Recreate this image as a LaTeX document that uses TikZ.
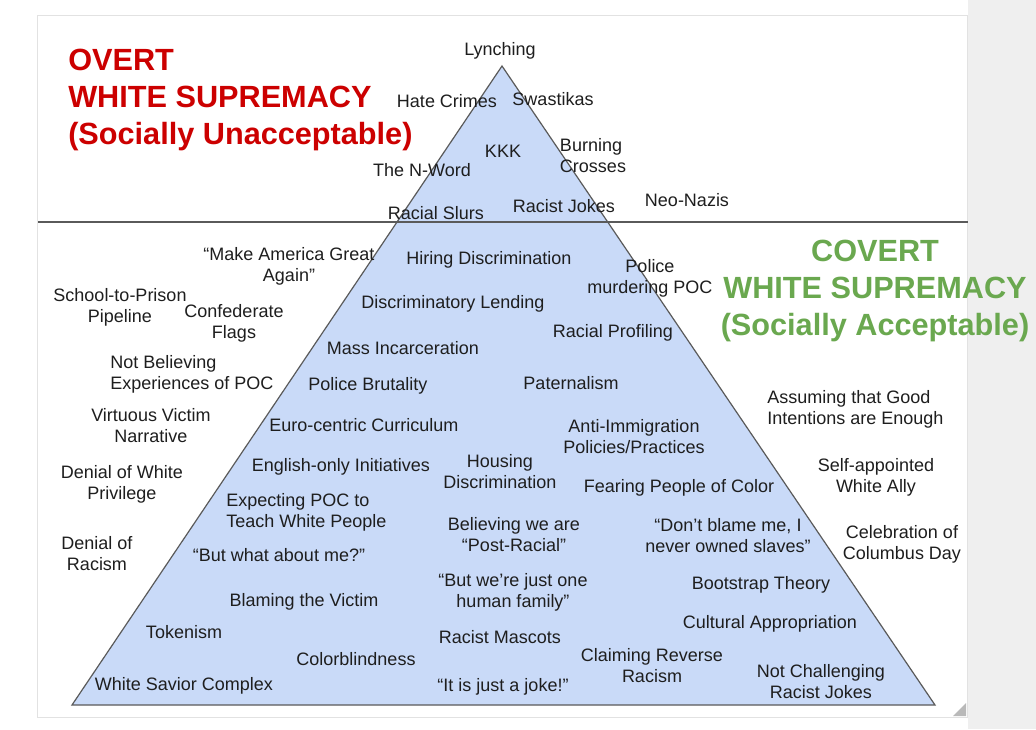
\documentclass[tikz,border=0pt]{standalone}
\usepackage{fontspec}
\setmainfont{Liberation Sans}
\definecolor{tri}{HTML}{C9DAF8}
\definecolor{edge}{HTML}{5A5A5A}
\definecolor{txt}{HTML}{1E1E1E}
\definecolor{ovred}{HTML}{CC0000}
\definecolor{covgreen}{HTML}{6AA84F}
\definecolor{side}{HTML}{EFEFEF}
\definecolor{frame}{HTML}{E2E2E2}
\newcommand\lblsize{\fontsize{13.5pt}{15.75pt}\selectfont}
\newcommand\ttlsize{\fontsize{23pt}{27.75pt}\selectfont\bfseries}
\begin{document}
\begin{tikzpicture}[x=0.75pt,y=-0.75pt,
  lbl/.style={font=\lblsize,text=txt,inner sep=0pt,align=center,yshift=-1.5pt},
  lbll/.style={lbl,align=left,anchor=west},
  ttl/.style={font=\ttlsize,inner sep=0pt,yshift=-2.25pt}]
\useasboundingbox (0,0) rectangle (1036,729);
\fill[white] (0,0) rectangle (1036,729);
\fill[side] (968,0) rectangle (1036,729);
\draw[draw=frame,fill=white,line width=1pt] (37.5,15.5) rectangle (967.5,717.5);
\fill[gray!55] (966,703) -- (966,716) -- (953,716) -- cycle;
% pyramid
\coordinate (apex) at (502,66);
\coordinate (bl) at (72,705);
\coordinate (br) at (935,705);
\draw[fill=tri,draw=edge,line width=0.9pt] (apex) -- (br) -- (bl) -- cycle;
\coordinate (hl) at (38,222);
\coordinate (hr) at (968,222);
\draw[edge,line width=1.1pt] (hl) -- (hr);
% titles
\node[ttl,text=ovred,align=left,anchor=west] (overt) at (68,97)
  {OVERT\\WHITE SUPREMACY\\(Socially Unacceptable)};
\node[ttl,text=covgreen,align=center] (covert) at (875,288)
  {COVERT\\WHITE SUPREMACY\\(Socially Acceptable)};
% overt labels
\node[lbl] (lynch) at (500,49) {Lynching};
\node[lbl] (hate) at (447,99) {Hate Crimes};
\node[lbl] (swas) at (553,97) {Swastikas};
\node[lbl] (kkk) at (503,149) {KKK};
\node[lbl,align=left] (burn) at (593,154) {Burning\\Crosses};
\node[lbl] (nword) at (422,168) {The N-Word};
\node[lbl] (slurs) at (436,211) {Racial Slurs};
\node[lbl] (rjokes) at (564,204) {Racist Jokes};
\node[lbl] (neo) at (687,198) {Neo-Nazis};
% covert labels
\node[lbl] (maga) at (289,264) {“Make America Great\\Again”};
\node[lbl] (hiring) at (489,258) {Hiring Discrimination};
\node[lbl] (police) at (650,276) {Police\\murdering POC};
\node[lbl] (school) at (120,305) {School-to-Prison\\Pipeline};
\node[lbl] (conf) at (234,321) {Confederate\\Flags};
\node[lbl] (lend) at (453,302) {Discriminatory Lending};
\node[lbl] (profil) at (613,331) {Racial Profiling};
\node[lbl] (mass) at (403,346) {Mass Incarceration};
\node[lbll] (notbel) at (110,372) {Not Believing\\Experiences of POC};
\node[lbl] (brut) at (368,384) {Police Brutality};
\node[lbl] (pater) at (571,381) {Paternalism};
\node[lbll] (assum) at (767,407) {Assuming that Good\\Intentions are Enough};
\node[lbl] (virt) at (151,424) {Virtuous Victim\\Narrative};
\node[lbl] (euro) at (364,423) {Euro-centric Curriculum};
\node[lbl] (immig) at (634,435) {Anti-Immigration\\Policies/Practices};
\node[lbl] (dwp) at (122,482) {Denial of White\\Privilege};
\node[lbl] (engl) at (341,465) {English-only Initiatives};
\node[lbl] (hous) at (500,470) {Housing\\Discrimination};
\node[lbl] (fear) at (679,486) {Fearing People of Color};
\node[lbl] (ally) at (876,475) {Self-appointed\\White Ally};
\node[lbll] (expect) at (226,510) {Expecting POC to\\Teach White People};
\node[lbl] (postr) at (514,533) {Believing we are\\“Post-Racial”};
\node[lbl] (dontb) at (728,534) {“Don’t blame me, I\\never owned slaves”};
\node[lbl] (denr) at (97,552) {Denial of\\Racism};
\node[lbl] (colum) at (902,542) {Celebration of\\Columbus Day};
\node[lbl] (aboutme) at (279,553) {“But what about me?”};
\node[lbl] (family) at (513,590) {“But we’re just one\\human family”};
\node[lbl] (boot) at (761,583) {Bootstrap Theory};
\node[lbl] (blame) at (304,600) {Blaming the Victim};
\node[lbl] (token) at (184,630) {Tokenism};
\node[lbl] (masc) at (500,635) {Racist Mascots};
\node[lbl] (cult) at (770,622) {Cultural Appropriation};
\node[lbl] (color) at (356,657) {Colorblindness};
\node[lbl] (rever) at (652,664) {Claiming Reverse\\Racism};
\node[lbl] (notch) at (821,680) {Not Challenging\\Racist Jokes};
\node[lbl] (savior) at (184,684) {White Savior Complex};
\node[lbl] (joke) at (503,685) {“It is just a joke!”};
\end{tikzpicture}
\end{document}
